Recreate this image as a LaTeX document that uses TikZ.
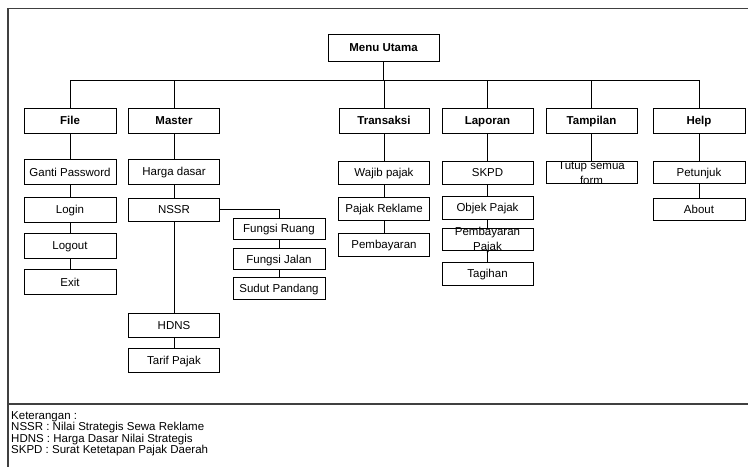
\documentclass[tikz,border=0pt]{standalone}
\usepackage{fontspec}
\setmainfont{Liberation Sans}
\begin{document}
\begin{tikzpicture}[x=1pt,y=-1pt,
  every node/.style={inner sep=0pt},
  txt/.style={font=\fontsize{11.5}{13}\selectfont, text height=8.2pt, text depth=0pt},
  head/.style={draw=black, line width=0.8pt, minimum width=91pt, minimum height=25pt,
    font=\fontsize{11.5}{13}\selectfont\bfseries, text height=8.2pt, text depth=0pt},
  item/.style={draw=black, line width=0.8pt, minimum width=91pt, minimum height=23pt, txt},
  wrap/.style={align=center, font=\fontsize{11.5}{15}\selectfont},
  link/.style={draw=black, line width=0.8pt},
  frame/.style={draw=black!75, line width=1.3pt},
  legend/.style={anchor=base west, font=\fontsize{11.5}{12}\selectfont}]
\useasboundingbox (0,0) rectangle (748,467);

% outer frame and the divider above the legend
\draw[frame] (748,8.5) -- (8,8.5) -- (8,467);
\draw[frame] (8,404) -- (748,404);

% root and top-level menus
\node[head, minimum width=111pt, minimum height=27pt] (menu) at (383.5,47.5) {Menu Utama};
\node[head, minimum width=92pt] (file) at (70,120.5) {File};
\node[head] (master) at (174,120.5) {Master};
\node[head, minimum width=90pt] (trans) at (384,120.5) {Transaksi};
\node[head] (lap) at (487.5,120.5) {Laporan};
\node[head] (tamp) at (591.5,120.5) {Tampilan};
\node[head, minimum width=92pt] (help) at (699,120.5) {Help};

\coordinate (bus) at (383.5,80);
\draw[link] (menu.south) -- (bus);
\foreach \n in {file,master,trans,lap,tamp,help}
  \draw[link] (\n.north) |- (bus);

% File
\node[item, minimum width=92pt, minimum height=25pt] (gp) at (70,172) {Ganti Password};
\node[item, minimum width=92pt, minimum height=25pt] (login) at (70,209.5) {Login};
\node[item, minimum width=92pt, minimum height=25pt] (logout) at (70,245.5) {Logout};
\node[item, minimum width=92pt, minimum height=25pt] (exit) at (70,282) {Exit};
\draw[link] (file) -- (gp) -- (login) -- (logout) -- (exit);

% Master
\node[item, minimum height=25pt] (hd) at (174,171.5) {Harga dasar};
\node[item] (nssr) at (174,209.5) {NSSR};
\node[item, minimum height=24pt] (hdns) at (174,325) {HDNS};
\node[item, minimum height=24pt] (tarif) at (174,360) {Tarif Pajak};
\draw[link] (master) -- (hd) -- (nssr) -- (hdns) -- (tarif);

\node[item, minimum width=92pt, minimum height=21pt] (fr) at (279,228.5) {Fungsi Ruang};
\node[item, minimum width=92pt, minimum height=21pt] (fj) at (279,259) {Fungsi Jalan};
\node[item, minimum width=92pt, minimum height=22pt] (sp) at (279,288) {Sudut Pandang};
\draw[link] (nssr.east) -| (fr.north);
\draw[link] (fr) -- (fj) -- (sp);

% Transaksi
\node[item] (wp) at (384,172.5) {Wajib pajak};
\node[item] (pr) at (384,208.5) {Pajak Reklame};
\node[item] (pb) at (384,244.5) {Pembayaran};
\draw[link] (trans) -- (wp) -- (pr) -- (pb);

% Laporan
\node[item] (skpd) at (487.5,172.5) {SKPD};
\node[item] (objek) at (487.5,207.5) {Objek Pajak};
\node[item, minimum height=22pt] (pp) at (487.5,239.5) {};
\node[wrap] (pptext) at (487.5,240.5) {Pembayaran\\Pajak};
\node[item] (tagihan) at (487.5,273.5) {Tagihan};
\draw[link] (lap) -- (skpd) -- (objek) -- (pp) -- (tagihan);

% Tampilan
\node[item, minimum height=22pt] (tsf) at (591.5,172) {};
\node[wrap] (tsftext) at (591.5,173.5) {Tutup semua\\form};
\draw[link] (tamp) -- (tsf);

% Help
\node[item, minimum width=92pt, minimum height=22pt] (pet) at (699,172) {Petunjuk};
\node[item, minimum width=92pt, minimum height=22pt] (about) at (699,209) {About};
\draw[link] (help) -- (pet) -- (about);

% legend
\node[legend] (k0) at (11,419) {Keterangan :};
\node[legend] (k1) at (11,430.5) {NSSR : Nilai Strategis Sewa Reklame};
\node[legend] (k2) at (11,442) {HDNS : Harga Dasar Nilai Strategis};
\node[legend] (k3) at (11,453.4) {SKPD : Surat Ketetapan Pajak Daerah};
\end{tikzpicture}
\end{document}
